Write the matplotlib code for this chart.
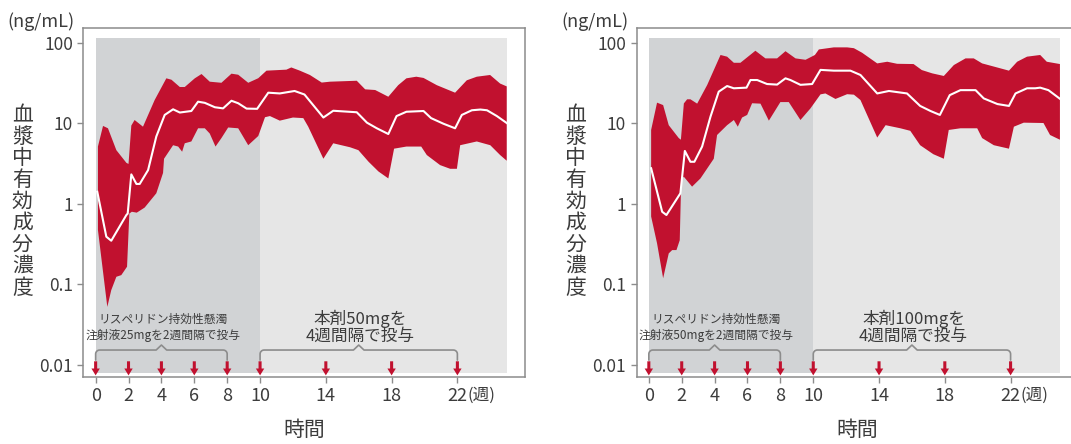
import numpy as np
import matplotlib
matplotlib.use("Agg")
import matplotlib.pyplot as plt

plt.rcParams['font.family'] = ['Noto Sans CJK JP', 'DejaVu Sans']

# ---- data (weeks, ng/mL) ----
left_upper_x = [0.14, 0.45, 0.75, 1.26, 1.87, 2.0, 2.17, 2.37, 2.88, 3.59, 4.30, 4.61, 5.12, 5.42,
                6.03, 6.44, 6.94, 7.65, 8.26, 8.67, 9.28, 9.89, 10.39, 11.6, 11.9, 12.42, 13.03,
                13.75, 14.25, 15.88, 16.39, 17.0, 17.8, 18.4, 18.9, 19.5, 19.94, 20.75, 21.86,
                22.57, 23.18, 23.99, 24.6, 25.0]
left_upper = [5.1, 9.2, 8.6, 4.6, 3.2, 3.1, 9.3, 10.9, 9.0, 19.3, 35.9, 34.5, 28.0, 28.0,
              35.9, 40.6, 32.6, 31.6, 41.0, 39.8, 31.6, 36.0, 44.7, 46.0, 49.0, 44.7, 39.5,
              31.8, 32.6, 33.5, 26.2, 25.7, 21.2, 29.5, 35.9, 37.6, 36.3, 29.5, 23.8,
              33.9, 37.6, 39.5, 30.9, 28.5]
left_lower_x = [0.14, 0.71, 0.95, 1.26, 1.56, 1.91, 2.05, 2.2, 2.5, 2.98, 3.69, 4.10, 4.16, 4.71,
                5.02, 5.26, 5.42, 5.82, 6.23, 6.64, 6.94, 7.29, 7.65, 8.06, 8.67, 9.28, 9.89,
                10.3, 10.6, 11.2, 12.0, 12.63, 12.93, 13.85, 14.45, 15.47, 15.98, 16.6, 17.2,
                17.8, 18.15, 18.9, 19.8, 20.14, 20.95, 21.56, 21.97, 22.17, 23.18, 24.0, 24.6, 25.0]
left_lower = [0.47, 0.052, 0.084, 0.123, 0.129, 0.164, 0.75, 0.79, 0.77, 0.89, 1.34, 2.4, 3.6, 5.3,
              5.1, 4.4, 5.6, 5.9, 8.6, 8.6, 7.4, 5.1, 6.5, 8.8, 8.6, 5.3, 6.9,
              11.8, 12.2, 10.7, 11.7, 11.5, 9.0, 3.6, 5.6, 5.0, 4.6, 3.3, 2.5,
              2.05, 4.8, 5.1, 5.1, 4.0, 3.0, 2.7, 2.7, 5.3, 5.9, 5.3, 4.0, 3.4]
left_med_x = [0.1, 0.65, 0.95, 1.87, 1.95, 2.17, 2.48, 2.68, 3.19, 3.69, 4.20, 4.71, 5.12, 5.82,
              6.23, 6.64, 7.25, 7.75, 8.26, 8.67, 9.18, 9.82, 10.5, 11.2, 12.1, 12.7, 13.85,
              14.45, 15.88, 16.5, 17.1, 17.8, 18.3, 18.9, 19.94, 20.4, 21.15, 21.86, 22.27,
              22.88, 23.4, 23.8, 24.4, 25.0]
left_med = [1.40, 0.387, 0.345, 0.72, 0.75, 2.3, 1.75, 1.75, 2.6, 6.8, 12.6, 14.8, 13.5, 14.1,
            18.4, 17.8, 15.7, 15.2, 18.9, 17.6, 15.1, 15.0, 23.8, 23.3, 25.0, 22.6, 11.7,
            14.2, 13.6, 10.1, 8.6, 7.3, 12.2, 13.8, 14.1, 11.5, 9.8, 8.6, 12.6,
            14.4, 14.7, 14.4, 12.2, 10.0]

right_upper_x = [0.14, 0.50, 0.87, 1.21, 1.82, 1.95, 2.13, 2.33, 2.53, 2.94, 3.55, 4.36, 4.76, 5.17,
                 5.57, 6.48, 7.09, 7.8, 8.31, 8.92, 9.53, 10.1, 10.34, 11.25, 12.06, 12.47, 12.97,
                 13.89, 14.5, 15.1, 16.1, 16.6, 17.23, 17.94, 18.55, 19.26, 19.76, 20.27, 21.18,
                 21.9, 22.4, 23.0, 23.8, 24.2, 25.0]
right_upper = [8.2, 17.9, 16.7, 9.4, 6.5, 6.2, 17.5, 19.7, 19.7, 17.4, 29.7, 70.0, 66.7, 56.0,
               56.0, 79.0, 63.5, 63.5, 78.0, 63.5, 61.0, 70.0, 82.0, 87.0, 87.0, 85.0, 74.6,
               55.0, 57.7, 54.4, 54.0, 45.5, 41.4, 38.4, 52.5, 63.5, 63.5, 55.0, 49.0,
               44.7, 57.7, 66.7, 70.0, 57.7, 54.0]
right_lower_x = [0.14, 0.5, 0.87, 1.21, 1.42, 1.68, 1.88, 1.97, 2.13, 2.63, 3.14, 3.95, 4.15, 4.76,
                 5.17, 5.41, 5.67, 5.98, 6.28, 6.79, 7.3, 8.0, 8.51, 9.22, 9.83, 10.44, 10.74,
                 11.35, 12.06, 12.47, 12.87, 13.89, 14.4, 15.3, 15.9, 16.5, 17.3, 17.94, 18.24,
                 18.95, 19.97, 20.27, 20.98, 21.9, 22.2, 22.8, 24.0, 24.4, 25.0]
right_lower = [0.69, 0.32, 0.118, 0.24, 0.264, 0.264, 0.35, 2.0, 2.15, 1.62, 2.05, 3.6, 7.1, 9.4,
               10.9, 9.0, 11.7, 12.6, 17.6, 17.4, 10.7, 18.2, 18.2, 10.9, 15.2, 22.7, 23.3,
               19.9, 22.8, 22.5, 19.3, 6.6, 9.4, 8.6, 8.0, 5.3, 4.1, 3.6, 8.2,
               8.6, 8.6, 6.5, 5.3, 4.8, 9.0, 10.1, 10.0, 7.1, 6.2]
right_med_x = [0.14, 0.81, 1.07, 1.92, 2.19, 2.53, 2.77, 3.24, 3.75, 4.25, 4.76, 5.17, 5.94, 6.18,
               6.59, 7.19, 7.8, 8.31, 8.61, 9.22, 9.93, 10.44, 11.25, 12.26, 12.87, 13.89, 14.6,
               15.7, 16.5, 17.13, 17.7, 18.3, 18.95, 19.87, 20.37, 21.2, 21.9, 22.3, 23.0,
               23.5, 23.8, 24.3, 25.0]
right_med = [2.74, 0.79, 0.72, 1.34, 4.5, 3.3, 3.3, 5.1, 12.0, 24.5, 28.8, 27.0, 27.5, 34.2,
             34.2, 30.5, 30.0, 35.9, 34.2, 29.8, 30.5, 45.7, 44.7, 44.7, 39.5, 23.3, 25.0,
             23.3, 16.3, 14.1, 12.6, 22.2, 25.6, 25.6, 20.2, 17.2, 16.3, 23.3, 27.0,
             27.0, 27.5, 25.6, 20.0]

doses_biweekly = [0, 2, 4, 6, 8]
doses_monthly = [10, 14, 18, 22]
x_ticks = [0, 2, 4, 6, 8, 10, 14, 18, 22]
y_ticks = [0.01, 0.1, 1, 10, 100]
y_ticklabels = ['0.01', '0.1', '1', '10', '100']

left_texts = (['リスペリドン持効性懸濁', '注射液25mgを2週間隔で投与'], ['本剤50mgを', '4週間隔で投与'])
right_texts = (['リスペリドン持効性懸濁', '注射液50mgを2週間隔で投与'], ['本剤100mgを', '4週間隔で投与'])
ylabel_chars = list('血漿中有効成分濃度')

RED = '#c1112f'
DARK_BG = '#d1d3d5'
LIGHT_BG = '#e6e6e6'
FRAME = '#8c8c8c'
TXT = '#3c3c3c'

W, H = 1071, 444
fig = plt.figure(figsize=(W / 100, H / 100), dpi=100)


def bracket(ax, x0, x1, xm):
    rx, ry = 4 / 16.4, 4 / 80.5
    ybar, yleg = -1.82, -1.945
    t = np.linspace(np.pi, np.pi / 2, 8)
    left_arc = np.c_[x0 + rx + rx * np.cos(t), ybar - ry + ry * np.sin(t)]
    t2 = np.linspace(np.pi / 2, 0, 8)
    right_arc = np.c_[x1 - rx + rx * np.cos(t2), ybar - ry + ry * np.sin(t2)]
    pts = np.vstack([[[x0, yleg]], left_arc,
                     [[xm - 0.32, ybar], [xm, ybar + 0.062], [xm + 0.32, ybar]],
                     right_arc, [[x1, yleg]]])
    ax.plot(pts[:, 0], 10 ** pts[:, 1], color=FRAME, lw=1.2, zorder=3,
            solid_joinstyle='round', solid_capstyle='round')


def panel(left_px, ux, uy, lx, ly, mx, my, texts):
    ax = fig.add_axes([left_px / W, 1 - 377 / H, 442 / W, 348.5 / H])
    ax.set_yscale('log')
    ax.set_xlim(-0.75, 26.13)
    ax.set_ylim(10 ** -2.155, 10 ** 2.174)

    # background periods
    ymin, ymax = 0.0127, 0.9737
    ax.axvspan(0, 10, ymin, ymax, color=DARK_BG, lw=0, zorder=0)
    ax.axvspan(10, 25, ymin, ymax, color=LIGHT_BG, lw=0, zorder=0)

    # 90% band and median
    ax.fill(np.concatenate([ux, lx[::-1]]), np.concatenate([uy, ly[::-1]]),
            color=RED, lw=0, zorder=2)
    ax.plot(mx, my, color='white', lw=1.5, zorder=3)

    # dosing arrows
    for t in doses_biweekly + doses_monthly:
        ax.annotate('', xy=(t, 10 ** -2.135), xytext=(t, 10 ** -1.96),
                    arrowprops=dict(arrowstyle='simple,head_length=0.45,head_width=0.55,tail_width=0.2',
                                    color=RED, mutation_scale=11, shrinkA=0, shrinkB=0, lw=0),
                    zorder=5)

    bracket(ax, 0, 8, 4)
    bracket(ax, 10, 22, 16)

    for i, line in enumerate(texts[0]):
        ax.text(4.1, 10 ** (-1.435 - 0.21 * i), line, ha='center', va='center',
                fontsize=8.5, color=TXT, zorder=4)
    for i, line in enumerate(texts[1]):
        ax.text(16.1, 10 ** (-1.435 - 0.21 * i), line, ha='center', va='center',
                fontsize=12, color=TXT, zorder=4)

    ax.set_xticks(x_ticks)
    ax.set_xticklabels([str(t) for t in x_ticks])
    ax.set_yticks(y_ticks)
    ax.set_yticklabels(y_ticklabels)
    ax.minorticks_off()
    ax.tick_params(axis='x', length=4.5, width=1, color=FRAME, labelsize=13,
                   labelcolor=TXT, pad=3)
    ax.tick_params(axis='y', length=4.5, width=1, color=FRAME, labelsize=12.5,
                   labelcolor=TXT, pad=3)
    for s in ax.spines.values():
        s.set_color(FRAME)
        s.set_linewidth(1.1)

    ax.annotate('(週)', xy=(22, 0), xycoords=('data', 'axes fraction'),
                xytext=(7, -13), textcoords='offset points', ha='left', va='center',
                fontsize=12, color=TXT)
    ax.set_xlabel('時間', fontsize=15, color=TXT, labelpad=10)

    fig.text((left_px - 42) / W, 1 - 22 / H, '(ng/mL)', ha='center', va='center',
             fontsize=13, color=TXT)
    for i, ch in enumerate(ylabel_chars):
        fig.text((left_px - 61) / W, 1 - (115 + 21.6 * i) / H, ch, ha='center', va='center',
                 fontsize=15, color=TXT)
    return ax


panel(83.3, left_upper_x, left_upper, left_lower_x, left_lower, left_med_x, left_med, left_texts)
panel(636.5, right_upper_x, right_upper, right_lower_x, right_lower, right_med_x, right_med, right_texts)

fig.savefig('out.png', dpi=100, facecolor='white')
